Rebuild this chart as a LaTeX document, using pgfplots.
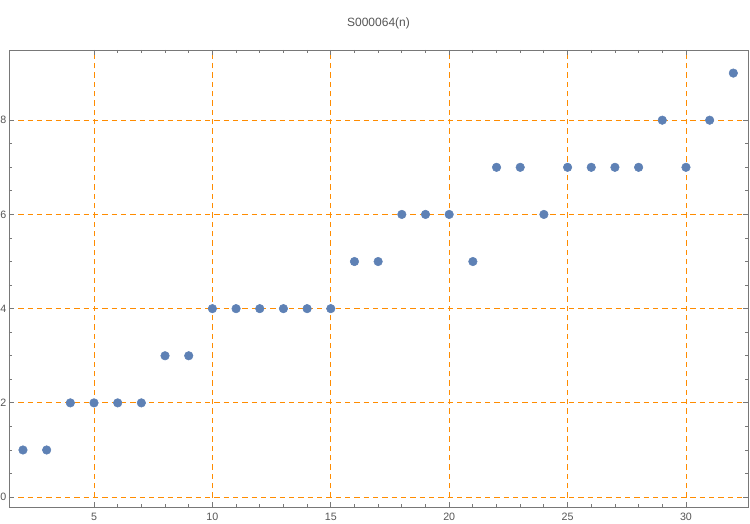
\documentclass[border=0pt]{standalone}
\usepackage{fontspec}
\setmainfont{Liberation Sans}
\usepackage{pgfplots}
\pgfplotsset{compat=1.18}
\definecolor{mblue}{RGB}{94,129,181}
\definecolor{gridorange}{RGB}{255,140,0}
\definecolor{framegray}{RGB}{120,120,120}
\definecolor{labelgray}{RGB}{85,85,85}

\begin{document}
\begin{tikzpicture}[x=0.75pt,y=0.75pt]
% fixed page size (750 x 524 px)
\useasboundingbox (-9,-17) rectangle (741,507);
\begin{axis}[
	at={(0,0)}, anchor=south west,
	scale only axis,
	width=554.25pt, height=342.75pt,
	xmin=1.41, xmax=32.62,
	ymin=-0.21, ymax=9.49,
	xtick={5,10,...,30},
	ytick={0,2,...,8},
	minor x tick num=4,
	minor y tick num=3,
	tick align=inside,
	major tick length=4pt,
	minor tick length=2.5pt,
	axis line style={framegray, line width=0.7pt},
	every tick/.style={framegray, line width=0.6pt},
	grid=major,
	major grid style={gridorange, dashed, line width=0.7pt, dash pattern=on 4pt off 3pt},
	tick label style={font=\fontsize{8}{9}\selectfont, text=labelgray},
	/pgf/number format/assume math mode=true,
	yticklabel style={xshift=1.5pt},
	xticklabel style={yshift=-1pt},
	title={S000064(n)},
	title style={font=\fontsize{9}{10}\selectfont, text=labelgray, yshift=6pt},
	clip=false,
]
\addplot[only marks, mark=*, mark size=3.2pt, mark options={draw=mblue, fill=mblue}] coordinates {
(2,1) (3,1) (4,2) (5,2) (6,2) (7,2) (8,3) (9,3) (10,4) (11,4)
(12,4) (13,4) (14,4) (15,4) (16,5) (17,5) (18,6) (19,6) (20,6) (21,5)
(22,7) (23,7) (24,6) (25,7) (26,7) (27,7) (28,7) (29,8) (30,7) (31,8)
(32,9)
};
\end{axis}
\end{tikzpicture}
\end{document}
